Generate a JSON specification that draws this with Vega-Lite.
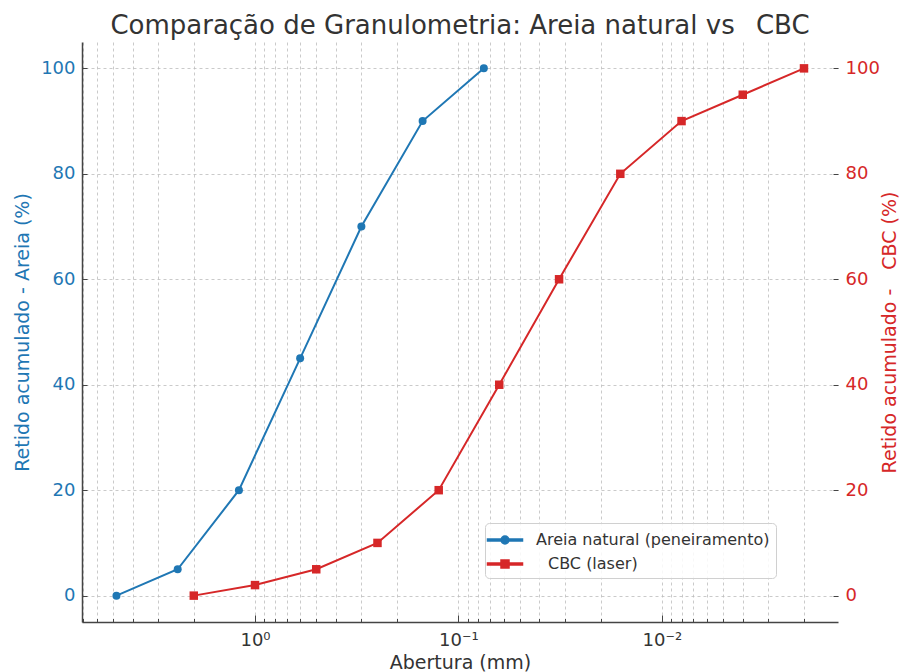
{
  "$schema": "https://vega.github.io/schema/vega-lite/v6.json",
  "width": 756,
  "height": 580,
  "autosize": {"type": "none"},
  "padding": {"left": 82, "top": 42, "right": 68, "bottom": 50},
  "background": "white",
  "title": {
    "text": "Comparação de Granulometria: Areia natural vs\u2002 CBC",
    "fontSize": 26,
    "font": "DejaVu Sans",
    "fontWeight": "normal",
    "color": "#333333",
    "anchor": "middle",
    "frame": "group",
    "baseline": "alphabetic",
    "offset": 9,
    "dy": 27
  },
  "config": {"view": {"stroke": null}, "font": "DejaVu Sans"},
  "datasets": {
    "areia": [
      {"abertura": 4.8, "retido": 0, "serie": "Areia natural (peneiramento)"},
      {"abertura": 2.4, "retido": 5, "serie": "Areia natural (peneiramento)"},
      {"abertura": 1.2, "retido": 20, "serie": "Areia natural (peneiramento)"},
      {"abertura": 0.6, "retido": 45, "serie": "Areia natural (peneiramento)"},
      {"abertura": 0.3, "retido": 70, "serie": "Areia natural (peneiramento)"},
      {"abertura": 0.15, "retido": 90, "serie": "Areia natural (peneiramento)"},
      {"abertura": 0.075, "retido": 100, "serie": "Areia natural (peneiramento)"}
    ],
    "cbc": [
      {"abertura": 2, "retido": 0, "serie": "CBC (laser)"},
      {"abertura": 1, "retido": 2, "serie": "CBC (laser)"},
      {"abertura": 0.5, "retido": 5, "serie": "CBC (laser)"},
      {"abertura": 0.25, "retido": 10, "serie": "CBC (laser)"},
      {"abertura": 0.125, "retido": 20, "serie": "CBC (laser)"},
      {"abertura": 0.063, "retido": 40, "serie": "CBC (laser)"},
      {"abertura": 0.032, "retido": 60, "serie": "CBC (laser)"},
      {"abertura": 0.016, "retido": 80, "serie": "CBC (laser)"},
      {"abertura": 0.008, "retido": 90, "serie": "CBC (laser)"},
      {"abertura": 0.004, "retido": 95, "serie": "CBC (laser)"},
      {"abertura": 0.002, "retido": 100, "serie": "CBC (laser)"}
    ]
  },
  "layer": [
    {
      "data": {"name": "areia"},
      "encoding": {
        "x": {
          "field": "abertura",
          "type": "quantitative",
          "title": "Abertura (mm)",
          "scale": {"type": "log", "domain": [0.001361, 7.09], "reverse": true, "nice": false},
          "axis": {
            "values": [0.002, 0.003, 0.004, 0.005, 0.006, 0.007, 0.008, 0.009, 0.01, 0.02, 0.03, 0.04, 0.05, 0.06, 0.07, 0.08, 0.09, 0.1, 0.2, 0.3, 0.4, 0.5, 0.6, 0.7, 0.8, 0.9, 1, 2, 3, 4, 5, 6, 7],
            "labelExpr": "datum.value == 1 ? '10⁰' : datum.value == 0.1 ? '10⁻¹' : datum.value == 0.01 ? '10⁻²' : ''",
            "grid": true,
            "gridDash": [3, 3],
            "gridColor": "#bdbdbd",
            "gridWidth": 0.8,
            "tickColor": "#444444",
            "tickSize": {"condition": {"test": "datum.value == 1 || datum.value == 0.1 || datum.value == 0.01", "value": -7}, "value": -3.5},
            "labelPadding": 16,
            "labelFontSize": 18,
            "labelColor": "#333333",
            "labelFlush": false,
            "labelOverlap": false,
            "labelBound": false,
            "domainColor": "#444444",
            "domainWidth": 1.5,
            "titleFontSize": 19,
            "titleFontWeight": "normal",
            "titleColor": "#333333",
            "titlePadding": 1
          }
        },
        "y": {
          "field": "retido",
          "type": "quantitative",
          "scale": {"domain": [-5, 105], "nice": false, "zero": false},
          "axis": {
            "values": [0, 20, 40, 60, 80, 100],
            "title": "Retido acumulado - Areia (%)",
            "grid": true,
            "gridDash": [3, 3],
            "gridColor": "#bdbdbd",
            "gridWidth": 0.8,
            "tickColor": "#444444",
            "tickSize": -5,
            "labelPadding": 12,
            "labelFontSize": 18,
            "labelColor": "#1f77b4",
            "domainColor": "#444444",
            "domainWidth": 1.5,
            "titleFontSize": 19,
            "titleFontWeight": "normal",
            "titleColor": "#1f77b4",
            "titlePadding": 8
          }
        },
        "color": {
          "field": "serie",
          "type": "nominal",
          "scale": {"domain": ["Areia natural (peneiramento)", "CBC (laser)"], "range": ["#1f77b4", "#d62728"]},
          "legend": {
            "orient": "none",
            "legendX": 403,
            "legendY": 481,
            "title": null,
            "direction": "vertical",
            "labelFontSize": 16,
            "labelColor": "#333333",
            "labelFont": "DejaVu Sans",
            "labelLimit": 400,
            "symbolSize": 400,
            "symbolOffset": 3,
            "labelOffset": 20,
            "padding": 6,
            "rowPadding": 5,
            "strokeColor": "#d0d0d0",
            "fillColor": "rgba(255,255,255,0.85)",
            "cornerRadius": 4,
            "encode": {
              "symbols": {
                "update": {
                  "shape": {"signal": "datum.label == 'Areia natural (peneiramento)' ? 'M-1.75,-0.1H1.75V0.1H-1.75Z M0.4,0A0.4,0.4 0 1,1 -0.4,0A0.4,0.4 0 1,1 0.4,0Z' : 'M-1.75,-0.1H1.75V0.1H-1.75Z M-0.4,-0.4H0.4V0.4H-0.4Z'"},
                  "fill": {"signal": "datum.label == 'Areia natural (peneiramento)' ? '#1f77b4' : '#d62728'"},
                  "stroke": {"value": "transparent"},
                  "opacity": {"value": 1}
                }
              },
              "labels": {
                "update": {
                  "dx": {"signal": "datum.label == 'CBC (laser)' ? 12 : 0"}
                }
              }
            }
          }
        }
      },
      "layer": [
        {"mark": {"type": "line", "strokeWidth": 2}},
        {"mark": {"type": "point", "shape": "circle", "filled": true, "size": 64, "opacity": 1}}
      ]
    },
    {
      "data": {"name": "cbc"},
      "encoding": {
        "x": {
          "field": "abertura",
          "type": "quantitative",
          "title": "Abertura (mm)",
          "scale": {"type": "log", "domain": [0.001361, 7.09], "reverse": true, "nice": false}
        },
        "y": {
          "field": "retido",
          "type": "quantitative",
          "scale": {"domain": [-5, 105], "nice": false, "zero": false},
          "axis": {
            "orient": "right",
            "values": [0, 20, 40, 60, 80, 100],
            "title": "Retido acumulado -\u2002\u2002CBC (%)",
            "titleAngle": 270,
            "grid": false,
            "domain": false,
            "tickColor": "#444444",
            "tickSize": -5,
            "labelPadding": 12,
            "labelFontSize": 18,
            "labelColor": "#d62728",
            "titleFontSize": 19,
            "titleFontWeight": "normal",
            "titleColor": "#d62728",
            "titlePadding": 20
          }
        },
        "color": {"field": "serie", "type": "nominal"}
      },
      "layer": [
        {"mark": {"type": "line", "strokeWidth": 2}},
        {"mark": {"type": "point", "shape": "square", "filled": true, "size": 72, "opacity": 1}}
      ]
    }
  ],
  "resolve": {"scale": {"y": "independent"}}
}
